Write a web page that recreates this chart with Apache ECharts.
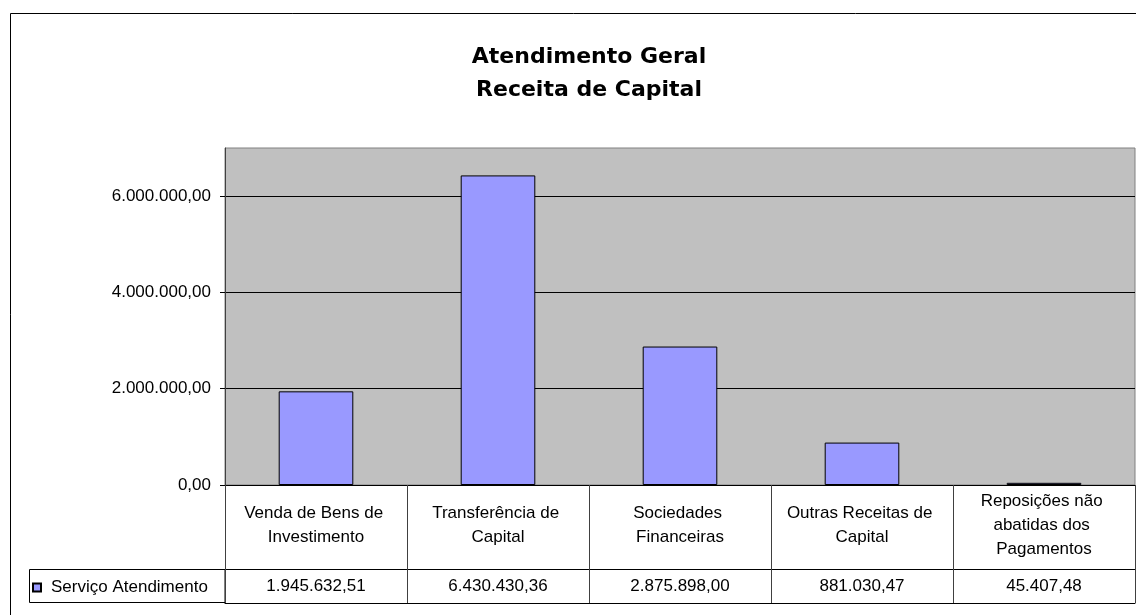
<!DOCTYPE html>
<html>
<head>
<meta charset="utf-8">
<script src="https://cdn.jsdelivr.net/npm/echarts@6/dist/echarts.min.js"></script>
<style>
  html, body { margin: 0; padding: 0; background: #fff; }
  #main { width: 1136px; height: 615px; }
</style>
</head>
<body>
<div id="main"></div>
<script>
// dados
const categorias = [
  'Venda de Bens de Investimento',
  'Transferência de Capital',
  'Sociedades Financeiras',
  'Outras Receitas de Capital',
  'Reposições não abatidas dos Pagamentos'
];
const serieNome = 'Serviço Atendimento';
const valores = [1945632.51, 6430430.36, 2875898.00, 881030.47, 45407.48];
const ticksY = [0, 2000000, 4000000, 6000000];

// formato pt-BR: 1.945.632,51
function fmt(v) {
  const p = Number(v).toFixed(2).split('.');
  return p[0].replace(/\B(?=(\d{3})+(?!\d))/g, '.') + ',' + p[1];
}

const FONT = 'Liberation Sans';
const chart = echarts.init(document.getElementById('main'));

const option = {
  animation: false,
  backgroundColor: '#fff',
  title: {
    text: 'Atendimento Geral\nReceita de Capital',
    left: 589,
    top: 41,
    padding: 0,
    textAlign: 'center',
    textStyle: {
      fontFamily: 'DejaVu Sans',
      fontWeight: 'bold',
      fontSize: 22,
      lineHeight: 33,
      color: '#000'
    }
  },
  legend: {
    data: [serieNome],
    left: 32,
    top: 579,
    padding: 0,
    icon: 'rect',
    itemWidth: 8,
    itemHeight: 8,
    textStyle: { fontFamily: FONT, fontSize: 17, color: '#000', padding: [2, 0, 0, 5] }
  },
  grid: {
    left: 225,
    right: 1,
    top: 148,
    bottom: 130,
    show: true,
    backgroundColor: '#C0C0C0',
    borderColor: '#808080',
    borderWidth: 1
  },
  xAxis: [
    {
      type: 'category',
      data: categorias,
      position: 'bottom',
      axisLine: { lineStyle: { color: '#000', width: 1 } },
      axisTick: { show: true, interval: 0, length: 118, lineStyle: { color: '#404040' } },
      axisLabel: {
        interval: 0,
        margin: 40,
        verticalAlign: 'middle',
        width: 160,
        overflow: 'break',
        lineHeight: 24,
        fontFamily: FONT,
        fontSize: 17,
        color: '#000'
      }
    },
    {
      type: 'category',
      data: valores.map(fmt),
      position: 'bottom',
      offset: 84,
      axisLine: { show: true, lineStyle: { color: '#000' } },
      axisTick: { show: false },
      axisLabel: {
        interval: 0,
        margin: 17,
        verticalAlign: 'middle',
        fontFamily: FONT,
        fontSize: 17,
        color: '#000'
      }
    },
    {
      type: 'category',
      data: categorias,
      position: 'bottom',
      offset: 118,
      axisLine: { show: true, lineStyle: { color: '#000' } },
      axisTick: { show: false },
      axisLabel: { show: false }
    }
  ],
  yAxis: {
    type: 'value',
    min: 0,
    max: 7000000,
    interval: 2000000,
    axisLine: { show: true, lineStyle: { color: '#404040' } },
    axisTick: { show: true, length: 5, customValues: ticksY, lineStyle: { color: '#000' } },
    axisLabel: {
      margin: 14,
      showMaxLabel: false,
      formatter: fmt,
      fontFamily: FONT,
      fontSize: 17,
      color: '#000'
    },
    splitLine: { show: true, lineStyle: { color: '#000', width: 1 } }
  },
  series: [
    {
      name: serieNome,
      type: 'bar',
      xAxisIndex: 0,
      data: valores,
      barCategoryGap: '59%',
      itemStyle: { color: '#9999FF', borderColor: '#000', borderWidth: 1 }
    }
  ],
  graphic: [
    {
      type: 'rect',
      shape: { x: 10.5, y: 13.5, width: 1400, height: 800 },
      style: { fill: 'none', stroke: '#000', lineWidth: 1 },
      silent: true
    },
    {
      type: 'rect',
      shape: { x: 29.5, y: 569.5, width: 195.5, height: 33 },
      style: { fill: 'none', stroke: '#000', lineWidth: 1 },
      silent: true
    }
  ]
};

chart.setOption(option);
</script>
</body>
</html>
